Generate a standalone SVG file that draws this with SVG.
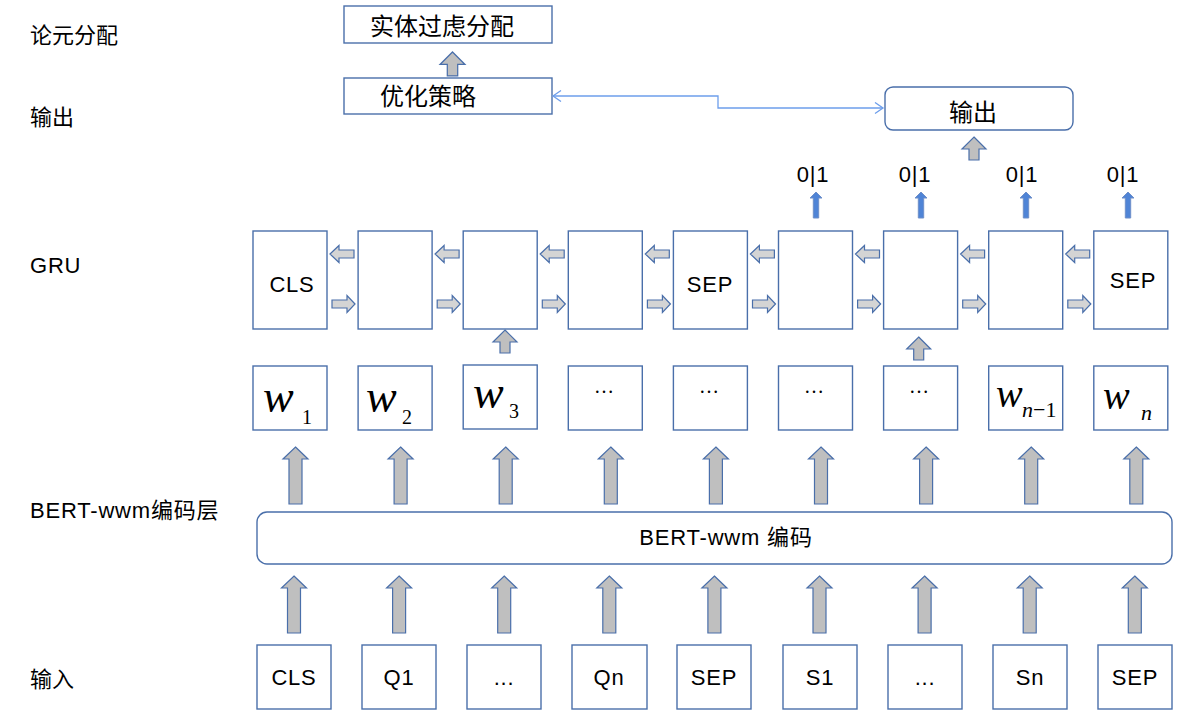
<svg xmlns="http://www.w3.org/2000/svg" xmlns:xlink="http://www.w3.org/1999/xlink" width="1204" height="714" viewBox="0 0 1204 714">
<style>
.bx{fill:#fff;stroke:#4A6FAA;stroke-width:1.4}
.t{font-family:"Liberation Sans","Noto Sans CJK SC",sans-serif;fill:#000;letter-spacing:0.8px}
.c{font-family:"Noto Sans CJK SC","Liberation Sans",sans-serif;fill:#000}
.lab{font-size:22px}
.m{text-anchor:middle}
.wi{font-family:"Liberation Serif",serif;font-style:italic;fill:#000}
.ws{font-family:"Liberation Serif",serif;fill:#000}
.ga{fill:#BFBFBF;stroke:#4A6FAA;stroke-width:1.2}
.ha{fill:#D4D4D4;stroke:#4A6FAA;stroke-width:1.2}
.ba{fill:#4F84D6;stroke:#6E8FC9;stroke-width:1}
</style>
<defs>
<path id="bigUp" d="M0,0 L12.5,12 L6.5,12 L6.5,57 L-6.5,57 L-6.5,12 L-12.5,12 Z"/>
<path id="smUp" d="M0,0 L12,12 L5,12 L5,23 L-5,23 L-5,12 L-12,12 Z"/>
<path id="lArr" d="M0,0 L9,-8.5 L9,-4 L24,-4 L24,4 L9,4 L9,8.5 Z"/>
<path id="rArr" d="M0,0 L-8,-8.5 L-8,-4 L-23,-4 L-23,4 L-8,4 L-8,8.5 Z"/>
<path id="blUp" d="M0,0 L6,6 L2.7,6 L2.7,26 L-2.7,26 L-2.7,6 L-6,6 Z"/>
<marker id="chev" markerWidth="12" markerHeight="14" refX="9" refY="6" orient="auto-start-reverse" markerUnits="userSpaceOnUse">
<path d="M1,0.5 L9,6 L1,11.5" fill="none" stroke="#6D9EEB" stroke-width="1.3"/>
</marker>
</defs>

<g id="layer-labels">
<text class="c lab" x="30" y="43">论元分配</text>
<text class="c lab" x="30" y="125">输出</text>
<text class="t lab" x="30" y="273">GRU</text>
<text class="t lab" x="30" y="518">BERT-wwm编码层</text>
<text class="c lab" x="30" y="687">输入</text>
</g>

<g id="node-entity-filter">
<rect class="bx" x="344" y="6" width="208" height="37"/>
<text class="c" x="370" y="35" font-size="24">实体过虑分配</text>
</g>
<g id="node-optimize">
<rect class="bx" x="344" y="78" width="208" height="36"/>
<text class="c" x="380" y="105" font-size="24">优化策略</text>
</g>
<g id="node-output">
<rect class="bx" x="885" y="87" width="188" height="43" rx="8"/>
<text class="c m" x="973" y="121" font-size="24">输出</text>
</g>

<g id="output-bits">
<text class="t m" x="813" y="182" font-size="22">0|1</text>
<text class="t m" x="915" y="182" font-size="22">0|1</text>
<text class="t m" x="1022" y="182" font-size="22">0|1</text>
<text class="t m" x="1123" y="182" font-size="22">0|1</text>
</g>

<g id="gru-cells">
<g id="gru-1"><rect class="bx" x="253" y="231" width="74" height="98"/><text class="t m" x="292" y="292" font-size="22">CLS</text></g>
<g id="gru-2"><rect class="bx" x="358.1" y="231" width="74" height="98"/></g>
<g id="gru-3"><rect class="bx" x="463.2" y="231" width="74" height="98"/></g>
<g id="gru-4"><rect class="bx" x="568.3" y="231" width="74" height="98"/></g>
<g id="gru-5"><rect class="bx" x="673.4" y="231" width="74" height="98"/><text class="t m" x="710" y="292" font-size="22">SEP</text></g>
<g id="gru-6"><rect class="bx" x="778.5" y="231" width="74" height="98"/></g>
<g id="gru-7"><rect class="bx" x="883.6" y="231" width="74" height="98"/></g>
<g id="gru-8"><rect class="bx" x="988.7" y="231" width="74" height="98"/></g>
<g id="gru-9"><rect class="bx" x="1093.8" y="231" width="74" height="98"/><text class="t m" x="1133" y="288" font-size="22">SEP</text></g>
</g>

<g id="word-vectors">
<g id="w-1"><rect class="bx" x="253" y="366" width="74" height="64"/><text class="wi" x="263" y="412" font-size="46">w</text><text class="ws" x="302" y="424" font-size="20">1</text></g>
<g id="w-2"><rect class="bx" x="358.1" y="366" width="74" height="64"/><text class="wi" x="366" y="412" font-size="46">w</text><text class="ws" x="402" y="424" font-size="20">2</text></g>
<g id="w-3"><rect class="bx" x="463.2" y="365" width="74" height="64"/><text class="wi" x="473" y="408" font-size="46">w</text><text class="ws" x="509" y="418" font-size="20">3</text></g>
<g id="w-4"><rect class="bx" x="568.3" y="366" width="74" height="64"/><text class="ws m" x="604" y="393" font-size="20">…</text></g>
<g id="w-5"><rect class="bx" x="673.4" y="366" width="74" height="64"/><text class="ws m" x="709" y="393" font-size="20">…</text></g>
<g id="w-6"><rect class="bx" x="778.5" y="366" width="74" height="64"/><text class="ws m" x="814" y="393" font-size="20">…</text></g>
<g id="w-7"><rect class="bx" x="883.6" y="366" width="74" height="64"/><text class="ws m" x="919" y="393" font-size="20">…</text></g>
<g id="w-8"><rect class="bx" x="988.7" y="366" width="74" height="64"/><text class="wi" x="996" y="407" font-size="40">w</text><text class="ws" x="1022" y="417" font-size="22"><tspan font-style="italic">n</tspan>−1</text></g>
<g id="w-9"><rect class="bx" x="1093.8" y="366" width="74" height="64"/><text class="wi" x="1103" y="409" font-size="40">w</text><text class="wi" x="1141" y="420" font-size="22">n</text></g>
</g>

<g id="bert-encoder">
<rect class="bx" x="257" y="512" width="915" height="52" rx="10"/>
<text class="t m" x="726" y="545" font-size="22">BERT-wwm 编码</text>
</g>

<g id="inputs">
<g id="in-1"><rect class="bx" x="257" y="645" width="74" height="64"/><text class="t m" x="294" y="685" font-size="22">CLS</text></g>
<g id="in-2"><rect class="bx" x="362" y="645" width="74" height="64"/><text class="t m" x="399" y="685" font-size="22">Q1</text></g>
<g id="in-3"><rect class="bx" x="467" y="645" width="74" height="64"/><text class="t m" x="504" y="685" font-size="22">...</text></g>
<g id="in-4"><rect class="bx" x="572" y="645" width="75" height="64"/><text class="t m" x="609" y="685" font-size="22">Qn</text></g>
<g id="in-5"><rect class="bx" x="677" y="645" width="74" height="64"/><text class="t m" x="714" y="685" font-size="22">SEP</text></g>
<g id="in-6"><rect class="bx" x="783" y="645" width="74" height="64"/><text class="t m" x="820" y="685" font-size="22">S1</text></g>
<g id="in-7"><rect class="bx" x="888" y="645" width="74" height="64"/><text class="t m" x="925" y="685" font-size="22">...</text></g>
<g id="in-8"><rect class="bx" x="993" y="645" width="74" height="64"/><text class="t m" x="1030" y="685" font-size="22">Sn</text></g>
<g id="in-9"><rect class="bx" x="1098" y="645" width="74" height="64"/><text class="t m" x="1135" y="685" font-size="22">SEP</text></g>
</g>

<g id="connectors">
<path d="M553,96 H718 V108 H883" fill="none" stroke="#6D9EEB" stroke-width="1.3" marker-start="url(#chev)" marker-end="url(#chev)"/>
<use href="#smUp" class="ga" transform="translate(452.5,52) scale(1.04,1.04)"/>
<use href="#smUp" class="ga" transform="translate(974,137)"/>
<use href="#blUp" class="ba" transform="translate(816,192)"/>
<use href="#blUp" class="ba" transform="translate(921,192)"/>
<use href="#blUp" class="ba" transform="translate(1026,192)"/>
<use href="#blUp" class="ba" transform="translate(1128,192)"/>
<g id="gru-links">
<use href="#lArr" class="ha" transform="translate(330,254)"/><use href="#rArr" class="ha" transform="translate(355,304)"/>
<use href="#lArr" class="ha" transform="translate(435.1,254)"/><use href="#rArr" class="ha" transform="translate(460.2,304)"/>
<use href="#lArr" class="ha" transform="translate(540.2,254)"/><use href="#rArr" class="ha" transform="translate(565.3,304)"/>
<use href="#lArr" class="ha" transform="translate(645.3,254)"/><use href="#rArr" class="ha" transform="translate(670.4,304)"/>
<use href="#lArr" class="ha" transform="translate(750.4,254)"/><use href="#rArr" class="ha" transform="translate(775.5,304)"/>
<use href="#lArr" class="ha" transform="translate(855.5,254)"/><use href="#rArr" class="ha" transform="translate(880.6,304)"/>
<use href="#lArr" class="ha" transform="translate(960.6,254)"/><use href="#rArr" class="ha" transform="translate(985.7,304)"/>
<use href="#lArr" class="ha" transform="translate(1065.7,254)"/><use href="#rArr" class="ha" transform="translate(1090.8,304)"/>
</g>
<use href="#smUp" class="ga" transform="translate(505,330)"/>
<use href="#smUp" class="ga" transform="translate(918.7,337)"/>
<g id="word-links">
<use href="#bigUp" class="ga" transform="translate(295.5,447)"/>
<use href="#bigUp" class="ga" transform="translate(400.6,447)"/>
<use href="#bigUp" class="ga" transform="translate(505.7,447)"/>
<use href="#bigUp" class="ga" transform="translate(610.8,447)"/>
<use href="#bigUp" class="ga" transform="translate(715.9,447)"/>
<use href="#bigUp" class="ga" transform="translate(821,447)"/>
<use href="#bigUp" class="ga" transform="translate(926.1,447)"/>
<use href="#bigUp" class="ga" transform="translate(1031.2,447)"/>
<use href="#bigUp" class="ga" transform="translate(1136.3,447)"/>
</g>
<g id="input-links">
<use href="#bigUp" class="ga" transform="translate(294,576)"/>
<use href="#bigUp" class="ga" transform="translate(399.1,576)"/>
<use href="#bigUp" class="ga" transform="translate(504.2,576)"/>
<use href="#bigUp" class="ga" transform="translate(609.3,576)"/>
<use href="#bigUp" class="ga" transform="translate(714.4,576)"/>
<use href="#bigUp" class="ga" transform="translate(819.5,576)"/>
<use href="#bigUp" class="ga" transform="translate(924.6,576)"/>
<use href="#bigUp" class="ga" transform="translate(1029.7,576)"/>
<use href="#bigUp" class="ga" transform="translate(1134.8,576)"/>
</g>
</g>
</svg>
